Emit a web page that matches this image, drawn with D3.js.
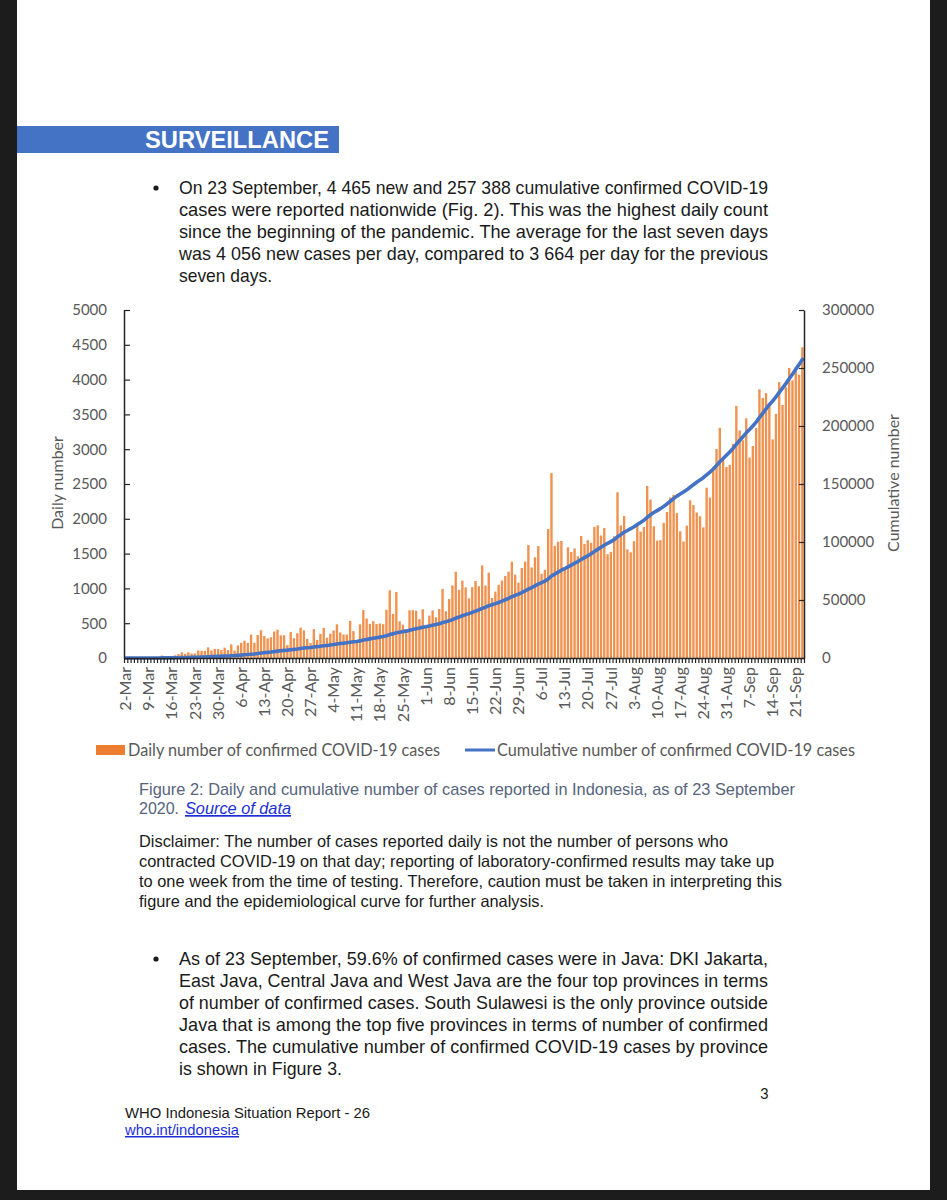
<!DOCTYPE html>
<html>
<head>
<meta charset="utf-8">
<script src="https://cdn.jsdelivr.net/npm/d3@7"></script>
<style>
  body { margin: 0; background: #1c1c1c; }
  svg { display: block; }
</style>
</head>
<body>
<div id="page"></div>
<script>
// daily confirmed cases, 2 Mar - 23 Sep 2020
var daily = [
  2,0,0,0,2,0,2,13,8,7,0,35,27,21,17,38,55,82,60,81,64,65,107,104,103,153,109,130,129,114,
  149,113,196,106,181,218,247,218,337,219,330,399,316,282,297,380,407,325,327,185,375,283,357,436,396,275,214,415,260,347,
  433,292,349,395,484,367,338,336,533,387,233,484,689,568,490,529,489,496,486,693,973,634,949,526,479,415,686,687,678,557,700,
  467,609,684,585,703,993,672,847,1043,1240,979,1111,1014,857,1017,1106,1031,1331,1041,1226,862,954,1051,1113,1178,1240,1385,1198,1082,1293,
  1385,1624,1301,1447,1607,1209,1268,1853,2657,1611,1671,1681,1282,1591,1522,1574,1462,1752,1639,1693,1655,1882,1906,1761,1868,1492,1525,1748,2381,1904,2040,
  1560,1519,1679,1922,1815,1882,2473,2277,1893,1687,1693,1942,2098,2307,2345,2081,1821,1673,1902,2266,2197,2090,2037,1877,2447,2306,2719,3003,3308,2858,2743,
  2775,3075,3622,3269,3128,3444,2880,3046,3307,3861,3737,3806,3636,3141,3507,3963,3635,3891,4168,3989,4176,4071,4465
];

// cumulative confirmed cases, same days
var cumulative = [
  2,2,2,2,4,4,6,19,27,34,34,69,96,117,134,172,227,309,369,450,514,579,686,790,893,1046,1155,1285,1414,1528,
  1677,1790,1986,2092,2273,2491,2738,2956,3293,3512,3842,4241,4557,4839,5136,5516,5923,6248,6575,6760,7135,7418,7775,8211,8607,8882,9096,9511,9771,10118,
  10551,10843,11192,11587,12071,12438,12776,13112,13645,14032,14265,14749,15438,16006,16496,17025,17514,18010,18496,19189,20162,20796,21745,22271,22750,23165,23851,24538,25216,25773,26473,
  26940,27549,28233,28818,29521,30514,31186,32033,33076,34316,35295,36406,37420,38277,39294,40400,41431,42762,43803,45029,45891,46845,47896,49009,50187,51427,52812,54010,55092,56385,
  57770,59394,60695,62142,63749,64958,66226,68079,70736,72347,74018,75699,76981,78572,80094,81668,83130,84882,86521,88214,89869,91751,93657,95418,97286,98778,100303,102051,104432,106336,108376,
  109936,111455,113134,115056,116871,118753,121226,123503,125396,127083,128776,130718,132816,135123,137468,139549,141370,143043,144945,147211,149408,151498,153535,155412,157859,160165,162884,165887,169195,172053,174796,
  177571,180646,184268,187537,190665,194109,196989,200035,203342,207203,210940,214746,218382,221523,225030,228993,232628,236519,240687,244676,248852,252923,257388
];

// one label every 7th day
var dateLabels = ["2-Mar","9-Mar","16-Mar","23-Mar","30-Mar","6-Apr","13-Apr","20-Apr","27-Apr",
  "4-May","11-May","18-May","25-May","1-Jun","8-Jun","15-Jun","22-Jun","29-Jun","6-Jul","13-Jul",
  "20-Jul","27-Jul","3-Aug","10-Aug","17-Aug","24-Aug","31-Aug","7-Sep","14-Sep","21-Sep"];
var labelStep = 7;

var dailyTicks = [0,500,1000,1500,2000,2500,3000,3500,4000,4500,5000];
var cumulTicks = [0,50000,100000,150000,200000,250000,300000];

var seriesNames = ["Daily number of confirmed COVID-19 cases", "Cumulative number of confirmed COVID-19 cases"];

var W = 947, H = 1200;
var chartFont = "Lato, 'Open Sans', sans-serif";
var docFont = "'Liberation Sans', Arial, sans-serif";
var grey = "#595959";

var svg = d3.select("#page").append("svg").attr("width", W).attr("height", H);

// page
svg.append("rect").attr("x", 17).attr("y", 0).attr("width", 913).attr("height", 1190).attr("fill", "#fff");

// helper for text lines; w forces the measured width
function line(x, y, s, size, w, opts) {
  opts = opts || {};
  var t = svg.append("text")
    .attr("x", x).attr("y", y)
    .attr("font-family", opts.font || docFont)
    .attr("font-size", size)
    .attr("fill", opts.fill || "#1a1a1a")
    .text(s);
  if (w) t.attr("textLength", w).attr("lengthAdjust", "spacingAndGlyphs");
  if (opts.weight) t.attr("font-weight", opts.weight);
  if (opts.italic) t.attr("font-style", "italic");
  if (opts.underline) t.attr("text-decoration", "underline");
  return t;
}

// header band
svg.append("rect").attr("x", 17).attr("y", 126).attr("width", 322).attr("height", 27).attr("fill", "#4472C4");
line(145, 148, "SURVEILLANCE", 24, 184, {weight: "bold", fill: "#fff"});

// bullet 1
var para1 = [
  "On 23 September, 4 465 new and 257 388 cumulative confirmed COVID-19",
  "cases were reported nationwide (Fig. 2). This was the highest daily count",
  "since the beginning of the pandemic. The average for the last seven days",
  "was 4 056 new cases per day, compared to 3 664 per day for the previous",
  "seven days."
];
svg.append("circle").attr("cx", 156).attr("cy", 188).attr("r", 2.6).attr("fill", "#1a1a1a");
para1.forEach(function(s, i) {
  line(179, 194 + i * 22, s, 19, i < 4 ? 589 : 93);
});

// ---- chart ----
var chartLeft = 124, chartRight = 804, chartTop = 310, chartBottom = 658;
var n = daily.length;

var x = d3.scaleBand().domain(d3.range(n)).range([chartLeft, chartRight]).paddingInner(0.28).paddingOuter(0.14);
var xTicks = d3.scaleLinear().domain([0, n]).range([chartLeft, chartRight]);
var y = d3.scaleLinear().domain([0, 5000]).range([chartBottom, chartTop]);
var y2 = d3.scaleLinear().domain([0, 300000]).range([chartBottom, chartTop]);

var chart = svg.append("g");

chart.append("g").selectAll("rect")
  .data(daily)
  .enter().append("rect")
  .attr("x", function(d, i) { return x(i); })
  .attr("y", function(d) { return y(d); })
  .attr("width", x.bandwidth())
  .attr("height", function(d) { return chartBottom - y(d); })
  .attr("fill", "#F0924F");

var cumLine = d3.line()
  .x(function(d, i) { return x(i) + x.bandwidth() / 2; })
  .y(function(d) { return y2(d); });

chart.append("path")
  .datum(cumulative)
  .attr("d", cumLine)
  .attr("fill", "none")
  .attr("stroke", "#4472C4")
  .attr("stroke-width", 3.6)
  .attr("stroke-linejoin", "round")
  .attr("stroke-linecap", "round");

// left axis, ticks pointing in
var yAxis = chart.append("g")
  .attr("transform", "translate(" + chartLeft + ",0)")
  .call(d3.axisLeft(y).tickValues(dailyTicks).tickSizeInner(-6).tickSizeOuter(0).tickPadding(17).tickFormat(d3.format("d")));

// right axis, ticks pointing in
var y2Axis = chart.append("g")
  .attr("transform", "translate(" + chartRight + ",0)")
  .call(d3.axisRight(y2).tickValues(cumulTicks).tickSizeInner(-5).tickSizeOuter(0).tickPadding(18).tickFormat(d3.format("d")));

// x axis: one tick per day boundary
var xAxis = chart.append("g")
  .attr("transform", "translate(0," + chartBottom + ")")
  .call(d3.axisBottom(xTicks).tickValues(d3.range(n + 1)).tickSize(5).tickSizeOuter(0).tickFormat(""));

// x labels every 7th day
var xLabels = chart.append("g")
  .attr("transform", "translate(0," + chartBottom + ")")
  .call(d3.axisBottom(x).tickValues(d3.range(0, n, labelStep)).tickSize(0)
    .tickFormat(function(i) { return dateLabels[i / labelStep]; }));
xLabels.select(".domain").remove();
xLabels.selectAll("text")
  .attr("transform", "rotate(-90)")
  .attr("x", -9).attr("y", 0).attr("dy", "0.35em")
  .style("text-anchor", "end");

[yAxis, y2Axis, xAxis, xLabels].forEach(function(g) {
  g.selectAll("text").attr("font-family", chartFont).attr("font-size", 15).attr("fill", grey);
  g.selectAll("line").attr("stroke", "#262626").attr("stroke-width", 1.2);
  g.select(".domain").attr("stroke", "#262626").attr("stroke-width", 1.5);
});
xLabels.selectAll("text").attr("font-size", 16);

// axis titles
chart.append("text")
  .attr("transform", "translate(57,483) rotate(-90)")
  .attr("text-anchor", "middle").attr("dy", "0.35em")
  .attr("font-family", chartFont).attr("font-size", 16).attr("fill", grey)
  .text("Daily number");
chart.append("text")
  .attr("transform", "translate(893,483) rotate(-90)")
  .attr("text-anchor", "middle").attr("dy", "0.35em")
  .attr("font-family", chartFont).attr("font-size", 16).attr("fill", grey)
  .text("Cumulative number");

// legend
chart.append("rect").attr("x", 96).attr("y", 745).attr("width", 29).attr("height", 10).attr("fill", "#ED7D31");
line(128, 756, seriesNames[0], 16.5, 312, {font: chartFont, fill: grey});
chart.append("line").attr("x1", 465).attr("x2", 495).attr("y1", 750).attr("y2", 750)
  .attr("stroke", "#4472C4").attr("stroke-width", 3);
line(497, 756, seriesNames[1], 16.5, 358, {font: chartFont, fill: grey});

// caption
line(139, 795, "Figure 2: Daily and cumulative number of cases reported in Indonesia, as of 23 September", 17, 656, {fill: "#56647c"});
line(139, 814, "2020.", 17, 40, {fill: "#56647c"});
line(185, 814, "Source of data", 17, 106, {fill: "#1c2fd6", italic: true, underline: true});

// disclaimer
var disclaimer = [
  ["Disclaimer: The number of cases reported daily is not the number of persons who", 589],
  ["contracted COVID-19 on that day; reporting of laboratory-confirmed results may take up", 635],
  ["to one week from the time of testing. Therefore, caution must be taken in interpreting this", 643],
  ["figure and the epidemiological curve for further analysis.", 405]
];
disclaimer.forEach(function(d, i) {
  line(139, 847 + i * 20, d[0], 16.5, d[1]);
});

// bullet 2
var para2 = [
  "As of 23 September, 59.6% of confirmed cases were in Java: DKI Jakarta,",
  "East Java, Central Java and West Java are the four top provinces in terms",
  "of number of confirmed cases. South Sulawesi is the only province outside",
  "Java that is among the top five provinces in terms of number of confirmed",
  "cases. The cumulative number of confirmed COVID-19 cases by province",
  "is shown in Figure 3."
];
svg.append("circle").attr("cx", 156).attr("cy", 959).attr("r", 2.6).attr("fill", "#1a1a1a");
para2.forEach(function(s, i) {
  line(179, 965 + i * 22, s, 19, i < 5 ? 589 : 163);
});

// page number and footer
line(760, 1099, "3", 15, null, {font: chartFont});
line(125, 1118, "WHO Indonesia Situation Report - 26", 15, 245);
line(125, 1135, "who.int/indonesia", 15, 114, {fill: "#1c2fd6", underline: true});
</script>
</body>
</html>
